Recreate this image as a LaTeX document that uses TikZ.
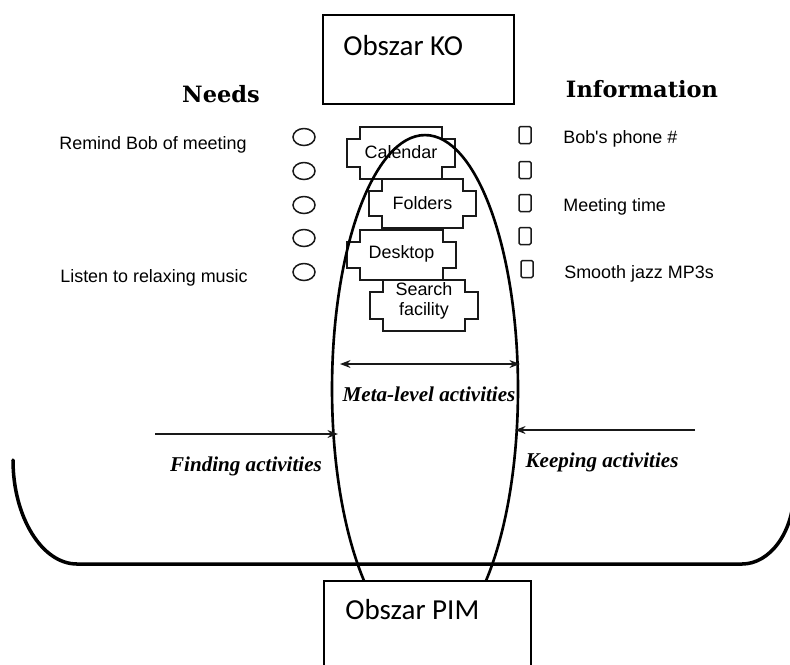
\documentclass[tikz,border=0pt]{standalone}
\usepackage{fontspec}
\setmainfont{Liberation Serif}
\newfontfamily\armfont{Liberation Sans}
\newfontfamily\slabfont{DejaVu Serif}
\newfontfamily\calfont{Carlito}
\usetikzlibrary{arrows.meta,shapes.geometric}

% a box with a tab on either side: #1 name, #2 left x, #3 right x, #4 top y, #5 bottom y,
% #6 label, #7 vertical shift of the label
\newcommand\plugtab[7]{%
  \draw[plugline] (#2,#4) -- (#3,#4) -- (#3,#4+12) -- (#3+13,#4+12) -- (#3+13,#5-12)
    -- (#3,#5-12) -- (#3,#5) -- (#2,#5) -- (#2,#5-12) -- (#2-13,#5-12)
    -- (#2-13,#4+12) -- (#2,#4+12) -- cycle;
  \node[sanslabel, align=center] (#1) at ({(#2+#3)/2},{(#4+#5)/2+#7}) {#6};
}

\begin{document}
\begin{tikzpicture}[x=0.02cm, y=-0.02cm,
  sanslabel/.style={font=\armfont\fontsize{10.2}{11.4}\selectfont, inner sep=0pt},
  headlabel/.style={font=\slabfont\bfseries\fontsize{12.8}{14}\selectfont, inner sep=0pt},
  actlabel/.style={font=\bfseries\itshape\fontsize{12}{14}\selectfont, inner sep=0pt, anchor=base},
  arealabel/.style={font=\calfont\fontsize{16.5}{19}\selectfont, inner sep=0pt, anchor=base west},
  areabox/.style={draw, line width=0.8pt, fill=white, inner sep=0pt},
  plugline/.style={draw=black!90, line width=0.85pt, line join=miter},
  needmark/.style={draw=black!90, line width=0.85pt, shape=ellipse, inner sep=0pt,
    minimum width=0.44cm, minimum height=0.34cm},
  infomark/.style={draw=black!90, line width=0.85pt, rectangle, rounded corners=0.8pt,
    inner sep=0pt, minimum width=0.24cm, minimum height=0.34cm},
  actarrow/.style={line width=0.8pt, draw=black!90, -{Stealth[length=6pt,width=4.5pt]}},
  ring/.style={line width=1.5pt},
  rim/.style={line width=2pt, line cap=round}
]
\useasboundingbox (0,0) rectangle (790,664);
\clip (0,0) rectangle (790,664);

% column headings
\node[headlabel] (needs) at (221,94) {Needs};
\node[headlabel] (info) at (642,89) {Information};

% needs column
\node[sanslabel, anchor=base west] (remind) at (59,149) {Remind Bob of meeting};
\node[sanslabel, anchor=base west] (listen) at (60,282) {Listen to relaxing music};
\foreach \k/\yy in {1/137, 2/171, 3/205, 4/238, 5/272}
  \node[needmark] (n\k) at (304,\yy) {};

% information column
\foreach \k/\xx/\yy in {1/525/135, 2/525/170, 3/525/203, 4/525/236, 5/527/269}
  \node[infomark] (i\k) at (\xx,\yy) {};
\node[sanslabel, anchor=base west] (phone) at (563,143) {Bob's phone \#};
\node[sanslabel, anchor=base west] (mtime) at (563,211) {Meeting time};
\node[sanslabel, anchor=base west] (jazz) at (564,278) {Smooth jazz MP3s};

% tools in the middle
\plugtab{calendar}{360}{442}{127}{179}{Calendar}{-1}
\plugtab{folders}{382}{463}{179}{228}{Folders}{0}
\plugtab{desktop}{360}{443}{230}{280}{Desktop}{-1}
\plugtab{search}{383}{465}{280}{331}{Search\\facility}{-5}

% the PIM area
\draw[ring] (425,389) ellipse [x radius=1.86cm, y radius=5.08cm];

% the KO area
\draw[rim] (13,460) .. controls (13,517) and (42,564) .. (77,564)
  -- (742,564) .. controls (770,564) and (794,532) .. (794,490) -- (794,380);

% activities
\coordinate (findL) at (155,434);
\coordinate (findR) at (338,434);
\coordinate (metaL) at (340,364);
\coordinate (metaR) at (520,364);
\coordinate (keepR) at (695,430);
\coordinate (keepL) at (515,430);
\draw[actarrow] (findL) -- (findR);
\draw[actarrow, {Stealth[length=6pt,width=4.5pt]}-{Stealth[length=6pt,width=4.5pt]}] (metaL) -- (metaR);
\draw[actarrow] (keepR) -- (keepL);
\node[actlabel] (meta) at (429,401) {Meta-level activities};
\node[actlabel] (finding) at (246,471) {Finding activities};
\node[actlabel] (keeping) at (602,467) {Keeping activities};

% area captions
\node[areabox, minimum width=3.82cm, minimum height=1.78cm] (ko) at (418.5,59.5) {};
\node[arealabel] (kotext) at (343,55) {Obszar KO};
\node[areabox, minimum width=4.14cm, minimum height=2.38cm] (pim) at (427.5,640.5) {};
\node[arealabel] (pimtext) at (345,619) {Obszar PIM};
\end{tikzpicture}
\end{document}
